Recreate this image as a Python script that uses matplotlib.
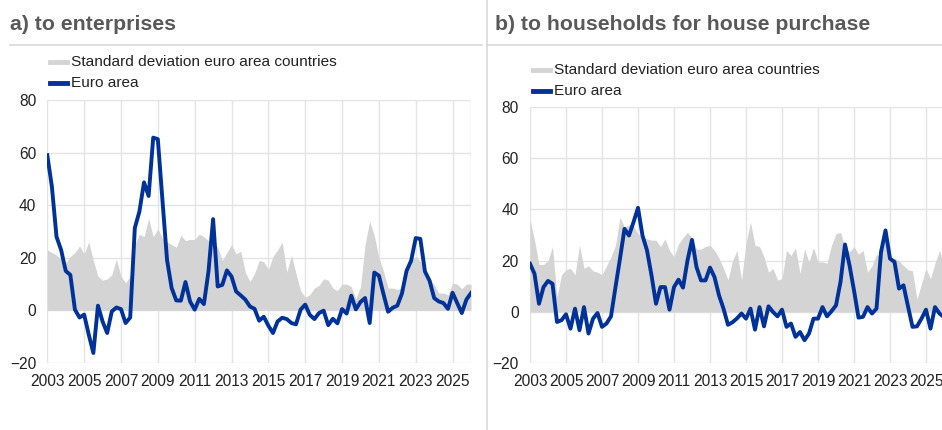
import numpy as np
import matplotlib
matplotlib.use("Agg")
import matplotlib.pyplot as plt
from matplotlib.lines import Line2D

plt.rcParams['font.family'] = ['Liberation Sans', 'DejaVu Sans']

# quarterly, 2003Q1 onwards
start_year = 2003
years = list(range(2003, 2026, 2))

ent_ea = [59, 47, 28, 23, 15, 13.5, 0.3, -2.7, -1.6, -9.2,
          -16.2, 1.8, -4.2, -8.6, -0.4, 1.1, 0.5, -4.8, -2.7, 31.3,
          37.6, 48.7, 43.5, 65.7, 65.1, 42, 19.2, 8.5, 3.8, 3.7,
          10.8, 3.4, 0.3, 4.4, 2.4, 14.8, 34.7, 9.1, 9.7, 15.2,
          12.9, 7.2, 5.7, 4.1, 1.5, 0.6, -3.9, -2.4, -5.8, -8.6,
          -4.2, -2.8, -3.3, -4.8, -5.3, 0.3, 2.2, -1.7, -3.3, -1.0,
          -0.1, -5.6, -3.2, -4.9, 0.5, -1.2, 5.6, 0.4, 3.2, 4.7,
          -4.8, 14.4, 13.2, 6.2, -0.5, 1.0, 1.8, 6.4, 15.0, 18.9,
          27.5, 27.2, 14.8, 11.3, 4.7, 3.4, 2.8, 0.6, 6.7, 2.8,
          -1.0, 4.1, 6.6]

ent_sd = [23, 22, 21, 19.5, 18, 20.5, 22, 24.5, 21.5, 26,
          19, 13, 11.5, 12, 13.5, 19.5, 13, 10.5, 13, 25,
          29, 28, 35, 28, 31, 27.5, 26, 25, 24, 28.5,
          26.5, 27, 27, 29, 28, 26.5, 26, 24, 19, 22,
          25, 21.5, 22.5, 14.5, 11, 14, 19, 18.5, 15.5, 20.5,
          23, 26, 14.5, 21, 14, 7.5, 5, 6, 8.5, 9.5,
          12, 11.5, 8.5, 7.5, 10, 10, 9, 4.5, 9, 25,
          34, 28.5, 20, 14.8, 8.5, 8.5, 8, 8.5, 16, 18.6,
          20.5, 18.6, 14.8, 12.3, 9.7, 6.6, 6.6, 5.9, 10.4, 10,
          8.2, 10, 10]

hh_ea = [18.8, 14.9, 3.2, 9.7, 12.1, 11, -3.9, -3.2, -0.9, -6.5,
         1.3, -7.1, 1.9, -8.4, -2.6, -0.4, -5.8, -4.5, -1.7, 9.7,
         20.8, 32.4, 29.8, 35, 40.6, 29.8, 24, 14.3, 3.2, 9.7,
         9.7, 0.9, 9.7, 12.6, 9.5, 20.1, 28.1, 17.5, 12.3, 12.3,
         17.3, 13.6, 6.5, 1.3, -5, -4, -2.5, -0.6, -2.6, 1.3,
         -6.9, 1.9, -5.6, 2.2, 0, -1.7, 0.9, -5.8, -4.5, -9.7,
         -7.8, -11, -8.4, -2.6, -2.6, 1.9, -1.7, 0.3, 2.6, 11.7,
         26.3, 18.2, 8.4, -2.2, -1.9, 1.9, -0.6, 1.3, 23.3, 31.8,
         20.8, 19.5, 9.1, 10.4, 2.2, -5.8, -5.6, -2.6, 0.9, -6.5,
         1.9, -0.6, -2.0]

hh_sd = [36, 28, 18.5, 18.5, 20, 25.5, 6, 14.5, 16.5, 17,
         14.5, 26, 17, 18, 16, 15.5, 14.5, 18, 21.5, 26,
         37, 33, 34, 33.5, 30.5, 29, 28.5, 28, 28, 25.5,
         28.5, 24, 21.5, 26.5, 29, 31, 29, 24.5, 24.5, 25.5,
         26, 24, 21, 17, 12.5, 20, 24, 12.5, 27, 35,
         26, 25.5, 21.5, 15.5, 17, 12.5, 13, 24, 22, 25,
         15, 24.5, 19.5, 25, 19.5, 19.5, 19, 26, 30.5, 31,
         25.5, 23.5, 25.5, 22.5, 24, 15.5, 18, 22.5, 21, 30.5,
         20, 21, 20, 18, 16.5, 16, 5, 11, 17, 13,
         19, 24, 19]

sd_label = "Standard deviation euro area countries"
ea_label = "Euro area"
titles = ["a) to enterprises", "b) to households for house purchase"]

blue = "#003299"
grey = "#d4d4d4"
grid_c = "#e4e4e4"
title_c = "#595959"

W, H = 942, 430
fig = plt.figure(figsize=(W / 100, H / 100), dpi=100)


def fx(px):
    return px / W


def fy(py):
    return 1 - py / H


def panel(rect, ea, sd):
    ax = fig.add_axes(rect)
    x = start_year + np.arange(len(ea)) * 0.25
    ax.fill_between(x, 0, sd, color=grey, lw=0, zorder=1)
    ax.plot(x, ea, color=blue, lw=2.8, zorder=3)
    ax.set_xlim(2003, 2026)
    ax.set_ylim(-20, 80)
    ax.set_xticks(years)
    ax.set_yticks([-20, 0, 20, 40, 60, 80])
    ax.set_yticklabels(["\u221220", "0", "20", "40", "60", "80"])
    ax.grid(True, color=grid_c, lw=1, zorder=0)
    for s in ax.spines.values():
        s.set_visible(False)
    ax.tick_params(length=0, labelsize=11.2, colors="#222222")
    ax.tick_params(axis='x', pad=8)
    ax.tick_params(axis='y', pad=8)
    ax.set_axisbelow(True)
    return ax


ax1 = panel([fx(47.3), fy(363), fx(471 - 47.3), (363 - 100) / H], ent_ea, ent_sd)
ax2 = panel([fx(530), fy(363.3), fx(944 - 530), (363.3 - 106.7) / H], hh_ea, hh_sd)
ax1.axvline(2026, color=grid_c, lw=1, zorder=0)

# titles and frame lines
fig.text(fx(10), fy(24), titles[0], fontsize=15.3, fontweight='bold', color=title_c, va='center')
fig.text(fx(495), fy(24), titles[1], fontsize=15.3, fontweight='bold', color=title_c, va='center')
fig.add_artist(Line2D([fx(10), fx(482)], [fy(45), fy(45)], color="#d9d9d9", lw=1.2))
fig.add_artist(Line2D([fx(487), fx(942)], [fy(45), fy(45)], color="#d9d9d9", lw=1.2))
fig.add_artist(Line2D([fx(486.5), fx(486.5)], [0, 1], color="#d9d9d9", lw=1.2))

# legends
for lx, ly in [(50, 62), (533, 70)]:
    fig.add_artist(Line2D([fx(lx), fx(lx + 17)], [fy(ly), fy(ly)], color=grey, lw=3.5))
    fig.text(fx(lx + 21), fy(ly), sd_label, fontsize=11.1, color="#222222", va='center')
    fig.add_artist(Line2D([fx(lx), fx(lx + 17)], [fy(ly + 21), fy(ly + 21)], color=blue, lw=3.5))
    fig.text(fx(lx + 21), fy(ly + 21), ea_label, fontsize=11.1, color="#222222", va='center')

fig.savefig("out.png", dpi=100)
